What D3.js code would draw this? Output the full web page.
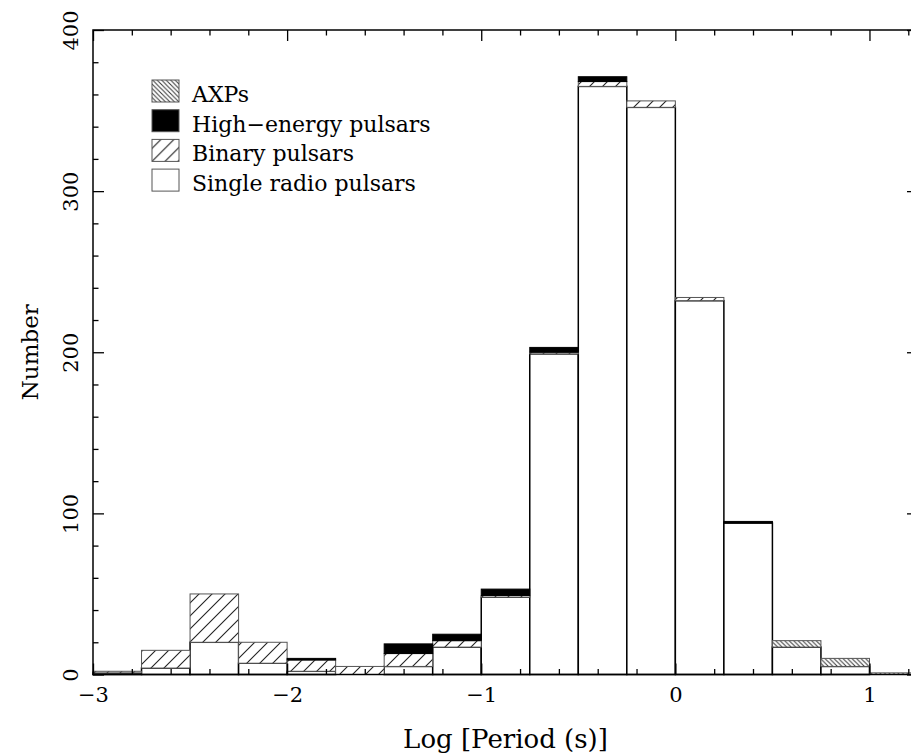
<!DOCTYPE html>
<html>
<head>
<meta charset="utf-8">
<script src="https://cdn.jsdelivr.net/npm/d3@7"></script>
<style>
	body { margin: 0; background: #fff; }
	svg { display: block; font-family: 'DejaVu Serif', serif; }
	.axis text { font-family: 'DejaVu Serif', serif; font-size: 21px; fill: #000; }
	.axis line { stroke: #000; stroke-width: 1.3; }
	.axis path { display: none; }
</style>
</head>
<body>
<svg id="chart" width="911" height="755"></svg>
<script>
// log10 period bins, width 0.25
const binLefts = [ -3, -2.75, -2.5, -2.25, -2, -1.75, -1.5, -1.25, -1, -0.75, -0.5, -0.25, 0, 0.25, 0.5, 0.75, 1 ];
const binWidth = 0.25;

// counts per bin, stacked bottom to top
const singleRadio = [ 1, 4, 20, 7, 2, 0, 5, 17, 48, 199, 365, 352, 232, 94, 17, 5, 0 ];
const binary = [ 1, 11, 30, 13, 7, 5, 8, 4, 1, 1, 3, 4, 2, 0, 0, 0, 0 ];
const highEnergy = [ 0, 0, 0, 0, 1, 0, 6, 4, 4, 3, 3, 0, 0, 1, 0, 0, 0 ];
const axps = [ 0, 0, 0, 0, 0, 0, 0, 0, 0, 0, 0, 0, 0, 0, 4, 5, 1 ];

const seriesKeys = [ 'single', 'binary', 'highEnergy', 'axps' ];
const legendKeys = [ 'axps', 'highEnergy', 'binary', 'single' ];
const legendLabels = [ 'AXPs', 'High\u2212energy pulsars', 'Binary pulsars', 'Single radio pulsars' ];

const xMajorTicks = [ -3, -2, -1, 0, 1 ];
const yMajorTicks = [ 0, 100, 200, 300, 400 ];

const PeriodHistogram = {
	left: 93,
	right: 918,
	top: 30,
	bottom: 674.5,
	fills: {
		single: '#fff',
		binary: 'url(#hatch-binary)',
		highEnergy: '#000',
		axps: 'url(#hatch-axp)'
	},
	strokes: {
		single: '#000',
		binary: '#555',
		highEnergy: '#000',
		axps: '#555'
	},

	draw: function() {
		const self = this;
		let svg = d3.select('#chart');

		self.x = d3.scaleLinear()
			.domain([ -3, 1.25 ])
			.range([ self.left, self.right ]);
		self.y = d3.scaleLinear()
			.domain([ 0, 400 ])
			.range([ self.bottom, self.top ]);

		self.drawPatterns(svg);
		self.drawBars(svg);
		self.drawAxes(svg);
		self.drawLegend(svg);
	},

	drawPatterns: function(svg) {
		let defs = svg.append('defs');

		let binaryPattern = defs.append('pattern')
			.attr('id', 'hatch-binary')
			.attr('patternUnits', 'userSpaceOnUse')
			.attr('width', 13)
			.attr('height', 13);
		binaryPattern.append('rect')
			.attr('width', 13)
			.attr('height', 13)
			.style('fill', '#fff');
		binaryPattern.append('path')
			.attr('d', 'M0,13L13,0M-3,3L3,-3M10,16L16,10')
			.style('stroke', '#222')
			.style('stroke-width', 1.1);

		let axpPattern = defs.append('pattern')
			.attr('id', 'hatch-axp')
			.attr('patternUnits', 'userSpaceOnUse')
			.attr('width', 4.5)
			.attr('height', 4.5);
		axpPattern.append('rect')
			.attr('width', 4.5)
			.attr('height', 4.5)
			.style('fill', '#fff');
		axpPattern.append('path')
			.attr('d', 'M0,0L4.5,4.5M-1,3.5L1,5.5M3.5,-1L5.5,1')
			.style('stroke', '#333')
			.style('stroke-width', 1);
	},

	drawBars: function(svg) {
		const self = this;
		let rows = binLefts.map(function(left, i) {
			return {
				left: left,
				single: singleRadio[i],
				binary: binary[i],
				highEnergy: highEnergy[i],
				axps: axps[i]
			};
		});
		let stacked = d3.stack().keys(seriesKeys)(rows);

		svg.append('g')
			.selectAll('g')
			.data(stacked)
			.join('g')
			.each(function(layer) {
				d3.select(this).selectAll('rect')
					.data(layer.filter(function(d) { return d[1] > d[0]; }))
					.join('rect')
					.attr('x', function(d) { return self.x(d.data.left); })
					.attr('y', function(d) { return self.y(d[1]); })
					.attr('width', function(d) { return self.x(d.data.left + binWidth) - self.x(d.data.left); })
					.attr('height', function(d) { return self.y(d[0]) - self.y(d[1]); })
					.style('fill', self.fills[layer.key])
					.style('stroke', self.strokes[layer.key])
					.style('stroke-width', layer.key == 'single' ? 1.5 : 1);
			});
	},

	drawAxes: function(svg) {
		const self = this;
		let intFormat = d3.format('d');
		let xMinor = d3.range(-30, 13, 2).map(function(v) { return v / 10; })
			.filter(function(v) { return xMajorTicks.indexOf(v) < 0; });
		let yMinor = d3.range(0, 401, 20)
			.filter(function(v) { return yMajorTicks.indexOf(v) < 0; });

		// bottom
		svg.append('g')
			.attr('class', 'axis')
			.attr('transform', 'translate(0,' + self.bottom + ')')
			.call(d3.axisBottom(self.x).tickValues(xMajorTicks).tickSize(-11).tickPadding(13).tickFormat(intFormat));
		svg.append('g')
			.attr('class', 'axis')
			.attr('transform', 'translate(0,' + self.bottom + ')')
			.call(d3.axisBottom(self.x).tickValues(xMinor).tickSize(-5.5).tickFormat(''));

		// top
		svg.append('g')
			.attr('class', 'axis')
			.attr('transform', 'translate(0,' + self.top + ')')
			.call(d3.axisTop(self.x).tickValues(xMajorTicks).tickSize(-11).tickFormat(''));
		svg.append('g')
			.attr('class', 'axis')
			.attr('transform', 'translate(0,' + self.top + ')')
			.call(d3.axisTop(self.x).tickValues(xMinor).tickSize(-5.5).tickFormat(''));

		// left
		let leftAxis = svg.append('g')
			.attr('class', 'axis')
			.attr('transform', 'translate(' + self.left + ',0)')
			.call(d3.axisLeft(self.y).tickValues(yMajorTicks).tickSize(-11).tickFormat(intFormat));
		leftAxis.selectAll('text')
			.attr('x', 0)
			.attr('y', 0)
			.attr('dy', 0)
			.attr('text-anchor', 'middle')
			.attr('transform', 'translate(-15,0) rotate(-90)');
		svg.append('g')
			.attr('class', 'axis')
			.attr('transform', 'translate(' + self.left + ',0)')
			.call(d3.axisLeft(self.y).tickValues(yMinor).tickSize(-5.5).tickFormat(''));

		// right
		svg.append('g')
			.attr('class', 'axis')
			.attr('transform', 'translate(' + self.right + ',0)')
			.call(d3.axisRight(self.y).tickValues(yMajorTicks).tickSize(-11).tickFormat(''));
		svg.append('g')
			.attr('class', 'axis')
			.attr('transform', 'translate(' + self.right + ',0)')
			.call(d3.axisRight(self.y).tickValues(yMinor).tickSize(-5.5).tickFormat(''));

		svg.append('rect')
			.attr('x', self.left)
			.attr('y', self.top)
			.attr('width', self.right - self.left)
			.attr('height', self.bottom - self.top)
			.style('fill', 'none')
			.style('stroke', '#000')
			.style('stroke-width', 1.5);

		svg.append('text')
			.attr('x', (self.left + self.right) / 2)
			.attr('y', 748)
			.attr('text-anchor', 'middle')
			.style('font-size', '26px')
			.text('Log [Period (s)]');

		svg.append('text')
			.attr('transform', 'translate(38,' + (self.top + self.bottom) / 2 + ') rotate(-90)')
			.attr('text-anchor', 'middle')
			.style('font-size', '23px')
			.text('Number');
	},

	drawLegend: function(svg) {
		const self = this;
		let rowHeight = 29.7;
		let legend = svg.append('g')
			.attr('transform', 'translate(152,102)');

		let items = legend.selectAll('g')
			.data(legendKeys)
			.join('g')
			.attr('transform', function(d, i) { return 'translate(0,' + i * rowHeight + ')'; });

		items.append('rect')
			.attr('x', 0)
			.attr('y', -22)
			.attr('width', 27)
			.attr('height', 22)
			.style('fill', function(d) { return self.fills[d]; })
			.style('stroke', '#555')
			.style('stroke-width', 1);

		items.append('text')
			.attr('x', 40)
			.attr('y', 0)
			.style('font-size', '22px')
			.text(function(d, i) { return legendLabels[i]; });
	}
}

PeriodHistogram.draw();
</script>
</body>
</html>
